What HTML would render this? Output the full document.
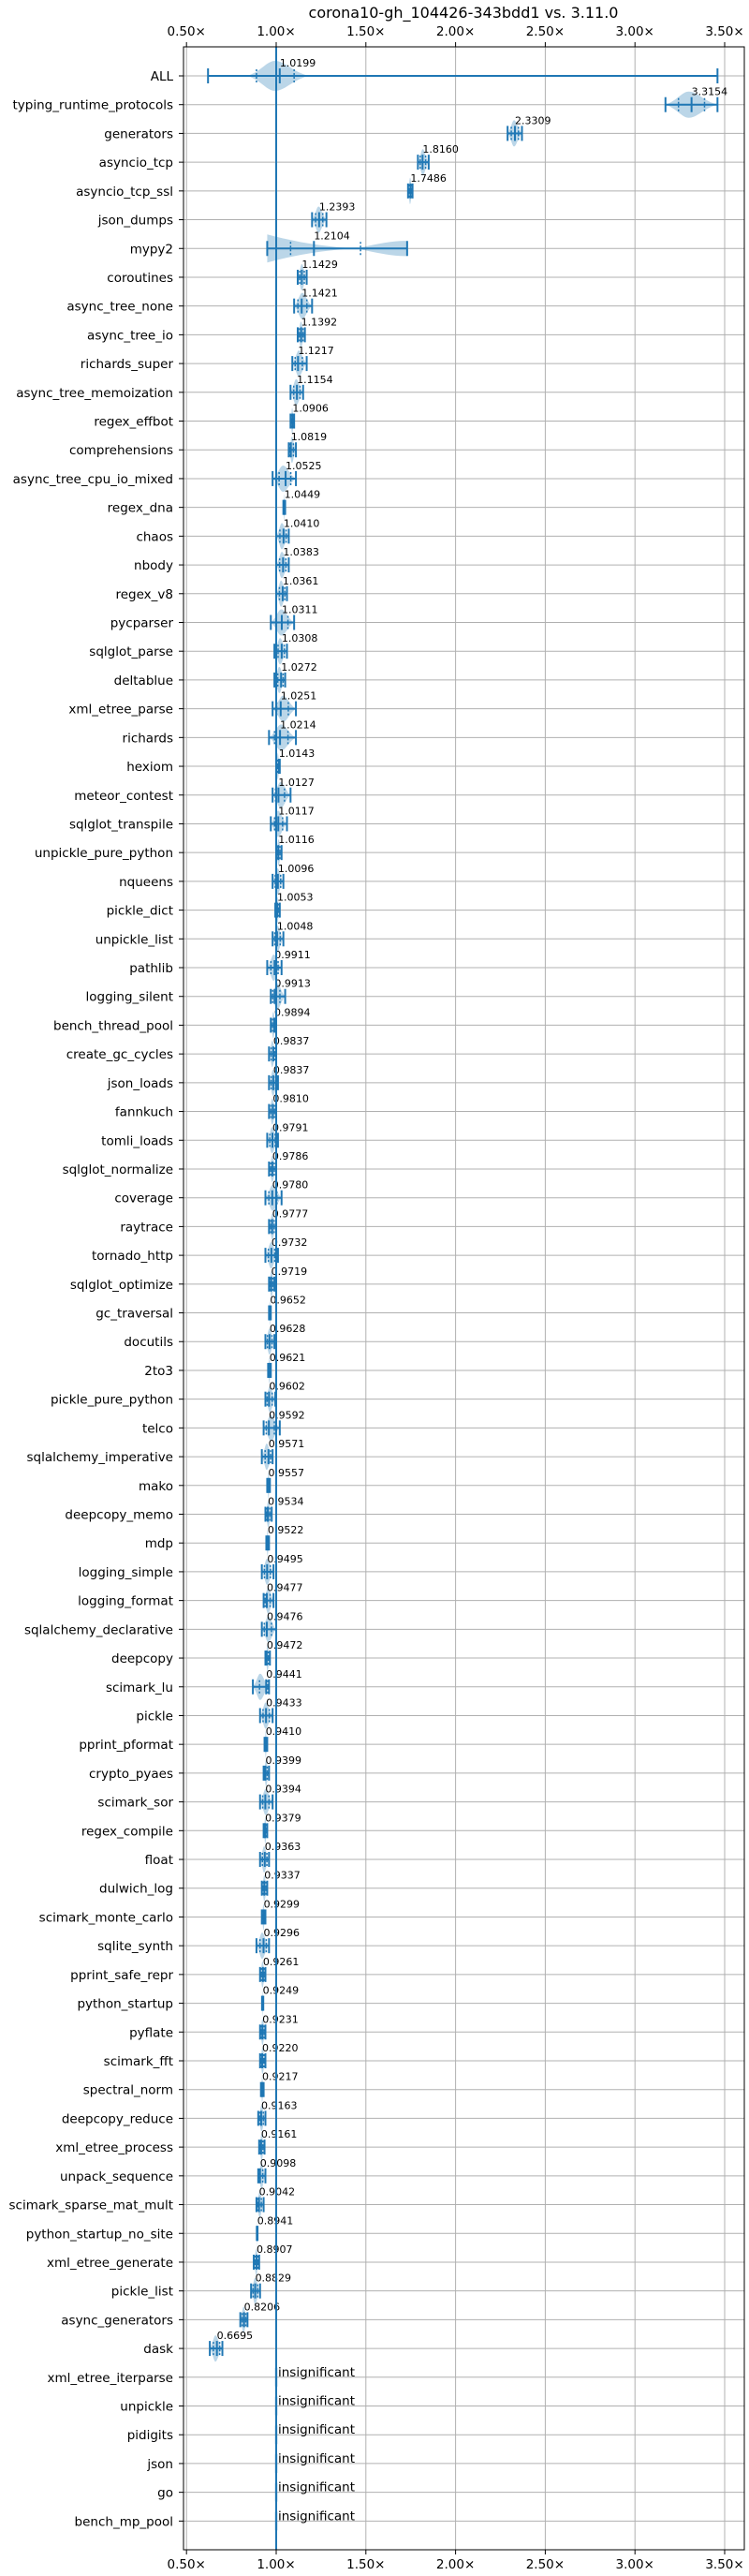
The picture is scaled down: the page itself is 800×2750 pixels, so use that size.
<!DOCTYPE html>
<html><head><meta charset="utf-8">
<style>
html,body{margin:0;padding:0;background:#fff;}
svg{display:block;}
text{font-family:"DejaVu Sans","Liberation Sans",sans-serif;fill:#000;}
</style></head>
<body>
<svg id="chart" width="800" height="2750" viewBox="0 0 800 2750" xmlns="http://www.w3.org/2000/svg">
<text x="495" y="19" font-size="16" text-anchor="middle">corona10-gh_104426-343bdd1 vs. 3.11.0</text>
<g id="grid"></g>
<g id="marks"></g>
<g id="axes"></g>
</svg>
<script>
const benchmarks = ["ALL","typing_runtime_protocols","generators","asyncio_tcp","asyncio_tcp_ssl","json_dumps","mypy2","coroutines","async_tree_none","async_tree_io","richards_super","async_tree_memoization","regex_effbot","comprehensions","async_tree_cpu_io_mixed","regex_dna","chaos","nbody","regex_v8","pycparser","sqlglot_parse","deltablue","xml_etree_parse","richards","hexiom","meteor_contest","sqlglot_transpile","unpickle_pure_python","nqueens","pickle_dict","unpickle_list","pathlib","logging_silent","bench_thread_pool","create_gc_cycles","json_loads","fannkuch","tomli_loads","sqlglot_normalize","coverage","raytrace","tornado_http","sqlglot_optimize","gc_traversal","docutils","2to3","pickle_pure_python","telco","sqlalchemy_imperative","mako","deepcopy_memo","mdp","logging_simple","logging_format","sqlalchemy_declarative","deepcopy","scimark_lu","pickle","pprint_pformat","crypto_pyaes","scimark_sor","regex_compile","float","dulwich_log","scimark_monte_carlo","sqlite_synth","pprint_safe_repr","python_startup","pyflate","scimark_fft","spectral_norm","deepcopy_reduce","xml_etree_process","unpack_sequence","scimark_sparse_mat_mult","python_startup_no_site","xml_etree_generate","pickle_list","async_generators","dask","xml_etree_iterparse","unpickle","pidigits","json","go","bench_mp_pool"];
const medians = [1.0199,3.3154,2.3309,1.8160,1.7486,1.2393,1.2104,1.1429,1.1421,1.1392,1.1217,1.1154,1.0906,1.0819,1.0525,1.0449,1.0410,1.0383,1.0361,1.0311,1.0308,1.0272,1.0251,1.0214,1.0143,1.0127,1.0117,1.0116,1.0096,1.0053,1.0048,0.9911,0.9913,0.9894,0.9837,0.9837,0.9810,0.9791,0.9786,0.9780,0.9777,0.9732,0.9719,0.9652,0.9628,0.9621,0.9602,0.9592,0.9571,0.9557,0.9534,0.9522,0.9495,0.9477,0.9476,0.9472,0.9441,0.9433,0.9410,0.9399,0.9394,0.9379,0.9363,0.9337,0.9299,0.9296,0.9261,0.9249,0.9231,0.9220,0.9217,0.9163,0.9161,0.9098,0.9042,0.8941,0.8907,0.8829,0.8206,0.6695,null,null,null,null,null,null];
const lows = [0.62,3.17,2.29,1.79,1.735,1.20,0.95,1.12,1.10,1.12,1.09,1.08,1.08,1.07,0.98,1.04,1.00,1.00,1.00,0.97,0.99,0.99,0.98,0.96,1.00,0.98,0.97,1.00,0.98,0.995,0.98,0.95,0.97,0.97,0.96,0.96,0.96,0.95,0.96,0.94,0.96,0.94,0.96,0.96,0.94,0.955,0.94,0.93,0.92,0.95,0.94,0.945,0.92,0.93,0.92,0.94,0.87,0.91,0.935,0.93,0.91,0.93,0.91,0.92,0.92,0.89,0.91,0.921,0.91,0.91,0.915,0.90,0.905,0.90,0.89,0.892,0.875,0.86,0.80,0.63];
const highs = [3.46,3.46,2.37,1.85,1.76,1.28,1.73,1.17,1.20,1.16,1.17,1.15,1.10,1.11,1.11,1.05,1.07,1.07,1.06,1.10,1.06,1.05,1.11,1.11,1.02,1.08,1.06,1.03,1.04,1.02,1.04,1.03,1.05,1.00,1.00,1.01,1.00,1.01,1.00,1.03,1.00,1.01,0.99,0.97,0.99,0.97,0.995,1.02,0.98,0.965,0.975,0.96,0.985,0.985,1.00,0.965,0.96,0.98,0.95,0.96,0.98,0.95,0.96,0.95,0.94,0.96,0.94,0.928,0.94,0.94,0.93,0.94,0.935,0.94,0.93,0.896,0.905,0.91,0.84,0.70];
const xTicks = [0.5,1.0,1.5,2.0,2.5,3.0,3.5];
const xTickLabels = ["0.50×","1.00×","1.50×","2.00×","2.50×","3.00×","3.50×"];

const NS = "http://www.w3.org/2000/svg";
const L = 196, R = 795, T = 50, B = 2722;
function xs(v){ return 295 + (v - 1) * 191.6; }
function ys(i){ return 81 + i * 30.71; }
function mk(tag, attrs, parent){
  const e = document.createElementNS(NS, tag);
  for (const k in attrs) e.setAttribute(k, attrs[k]);
  parent.appendChild(e);
  return e;
}
const grid = document.getElementById('grid');
const marks = document.getElementById('marks');
const axes = document.getElementById('axes');
const BLUE = "#1f77b4";

xTicks.forEach((t, k) => {
  const x = xs(t);
  const g = mk('line', {x1:x, x2:x, y1:T, y2:B, stroke:"#b0b0b0", "stroke-width":1}, grid);
  
  
  [[T, T-5, 38], [B, B+5, 2742]].forEach(([a, b, ty]) => {
    const tk = mk('line', {x1:x, x2:x, y1:a, y2:b, stroke:"#000", "stroke-width":1}, axes);
    
    
    const tl = mk('text', {x:x, y:ty, "font-size":13.5, "text-anchor":"middle"}, axes);
    tl.textContent = xTickLabels[k];
    
    
  });
});

benchmarks.forEach((name, i) => {
  const y = ys(i);
  const gl = mk('line', {x1:L, x2:R, y1:y, y2:y, stroke:"#b0b0b0", "stroke-width":1}, grid);
  
  
  const tk = mk('line', {x1:L-5, x2:L, y1:y, y2:y, stroke:"#000", "stroke-width":1}, axes);
  
  
  const lb = mk('text', {x:L-11, y:y+5, "font-size":13.5, "text-anchor":"end"}, axes);
  lb.textContent = name;
  
  

  const m = medians[i];
  if (m === null) {
    const fv = mk('rect', {x:xs(1)-1.5, y:y-10, width:3, height:20, fill:BLUE, "fill-opacity":0.3}, marks);
    
    
    const it = mk('text', {x:xs(1)+2, y:y-1, "font-size":13.5}, marks);
    it.textContent = "insignificant";
    
    
    return;
  }
  const lo = lows[i], hi = highs[i];
  let vlo = lo, vhi = hi, h = 14;
  if (i === 0) { vlo = 0.84; vhi = 1.18; h = 16; }
  const xl = xs(vlo), xh = xs(vhi), xm = xs(m);
  let d;
  if (i === 6) {
    d = `M${xs(0.95)},${y-15} Q${xs(1.2)},${y-2} ${xs(1.45)},${y} Q${xs(1.65)},${y-9} ${xs(1.73)},${y-8} L${xs(1.73)},${y+8} Q${xs(1.65)},${y+9} ${xs(1.45)},${y} Q${xs(1.2)},${y+2} ${xs(0.95)},${y+15} Z`;
  } else {
    const pk = xs(vlo + (vhi - vlo) * 0.45);
    d = `M${xl},${y} C${xl+(pk-xl)*0.5},${y-h*0.3} ${pk-(pk-xl)*0.3},${y-h} ${pk},${y-h} C${pk+(xh-pk)*0.3},${y-h} ${xh-(xh-pk)*0.5},${y-h*0.3} ${xh},${y} C${xh-(xh-pk)*0.5},${y+h*0.3} ${pk+(xh-pk)*0.3},${y+h} ${pk},${y+h} C${pk-(pk-xl)*0.3},${y+h} ${xl+(pk-xl)*0.5},${y+h*0.3} ${xl},${y} Z`;
  }
  const vp = mk('path', {d:d, fill:BLUE, "fill-opacity":0.3, stroke:"none"}, marks);
  
  

  const x1 = xs(lo), x2 = xs(hi);
  const wl = mk('line', {x1:x1, x2:x2, y1:y, y2:y, stroke:BLUE, "stroke-width":2}, marks);
  
  
  [x1, x2].forEach(cx => {
    const c = mk('line', {x1:cx, x2:cx, y1:y-8, y2:y+8, stroke:BLUE, "stroke-width":2}, marks);
    
    
  });
  const md = mk('line', {x1:xm, x2:xm, y1:y-8, y2:y+8, stroke:BLUE, "stroke-width":2}, marks);
  
  
  [lo + (m - lo) * 0.5, m + (hi - m) * 0.5].forEach(q => {
    let qx = xs(q);
    if (i === 0) qx = xs(q < m ? 0.89 : 1.10);
    const ql = mk('line', {x1:qx, x2:qx, y1:y-7, y2:y+7, stroke:BLUE, "stroke-width":1.5, "stroke-dasharray":"2,2"}, marks);
    
    
  });
  const vt = mk('text', {x:xm, y:y-10, "font-size":11}, marks);
  vt.textContent = m.toFixed(4);
  
  
});

const ref = mk('line', {x1:xs(1), x2:xs(1), y1:T, y2:B, stroke:BLUE, "stroke-width":2}, marks);


const frame = mk('rect', {x:L, y:T, width:R-L, height:B-T, fill:"none", stroke:"#000", "stroke-width":1}, axes);


</script>
</body></html>
